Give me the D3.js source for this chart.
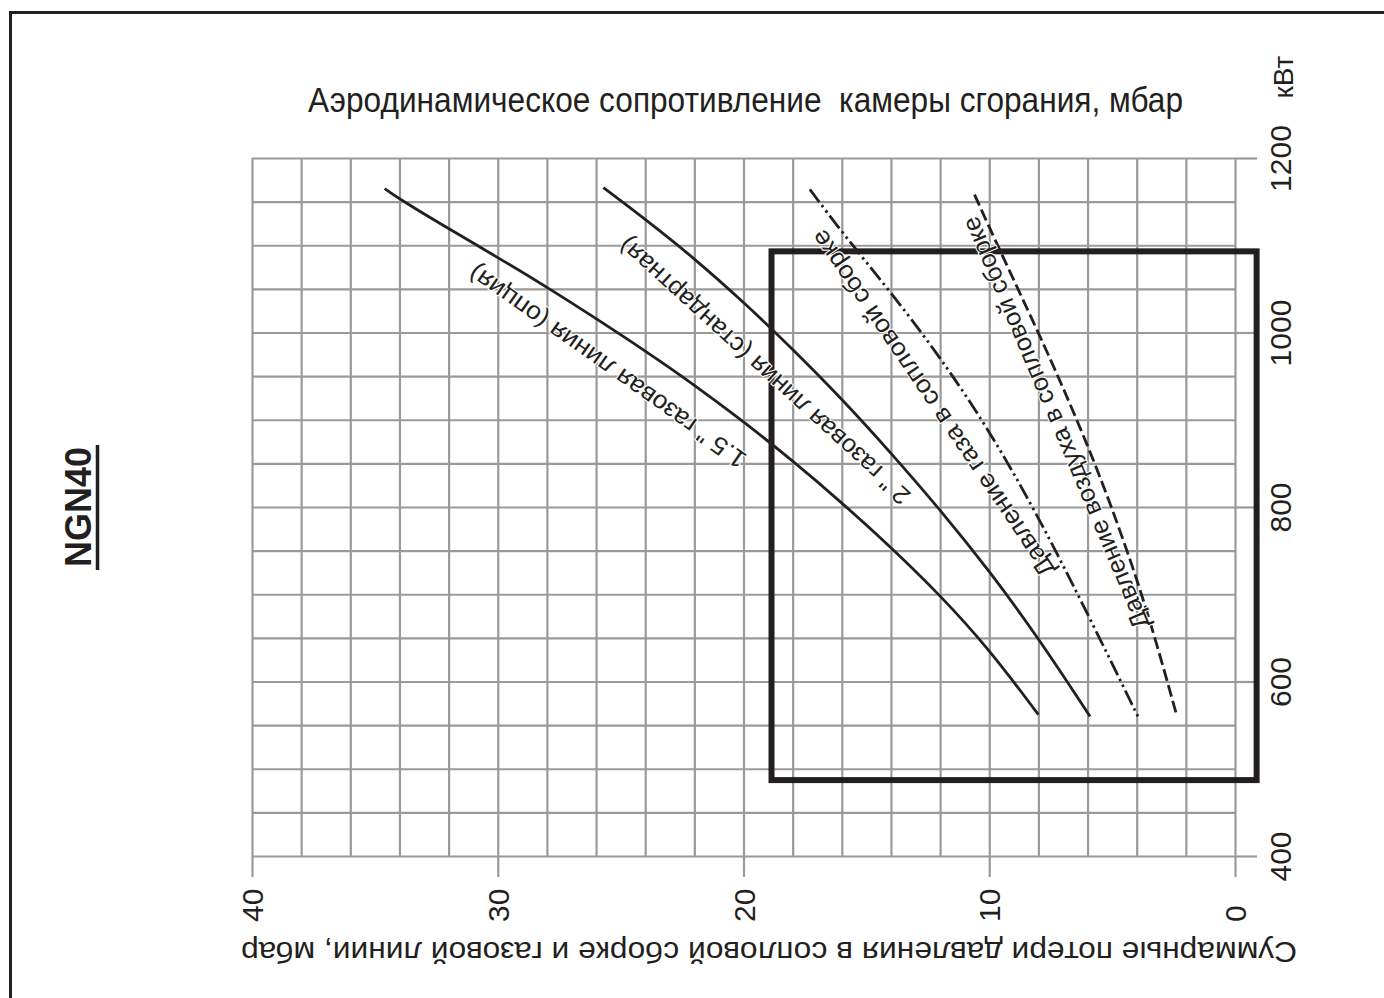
<!DOCTYPE html>
<html>
<head>
<meta charset="utf-8">
<script src="https://cdn.jsdelivr.net/npm/d3@7"></script>
<style>
  html, body { margin: 0; padding: 0; background: #fff; }
  svg { display: block; }
  text { font-family: "Liberation Sans", Arial, sans-serif; fill: #231f20; }
</style>
</head>
<body>
<svg id="chart" width="1384" height="998"></svg>
<script>
// ---- axes: pressure loss (mbar, decreasing to the right) and burner output (kW)
const pressureTicks = [40, 30, 20, 10, 0];
const pressureGrid = d3.range(0, 41, 2);
const powerTicks = [400, 600, 800, 1000, 1200];
const powerGrid = d3.range(400, 1201, 50);

// ---- working field of the burner
const fieldPressure = [18.86, -0.88];
const fieldPower = [487, 1093];

// ---- curves: pressure (mbar) against output (kW)
const gas15Pressure = [34.6, 34.0, 32.0, 30.0, 28.0, 26.0, 24.0, 22.0, 20.0, 18.0, 16.0, 14.0, 12.0, 10.0, 8.0];
const gas15Power    = [1165, 1153, 1119, 1086, 1052, 1016, 979, 940, 898, 853, 805, 754, 699, 637, 562];

const gas2Pressure = [25.7, 24.0, 22.0, 20.0, 18.0, 16.0, 14.0, 12.0, 10.0, 8.0, 5.9];
const gas2Power    = [1166, 1130, 1085, 1035, 981, 924, 862, 797, 727, 650, 560];

const headGasPressure = [17.3, 16.0, 14.0, 12.0, 10.0, 8.0, 6.0, 3.95];
const headGasPower    = [1164, 1115, 1046, 972, 888, 789, 678, 560];

const headAirPressure = [10.6, 9.6, 8.0, 7.0, 6.0, 5.1, 4.1, 3.25, 2.4];
const headAirPower    = [1158, 1096, 1000, 937, 871, 806, 727, 650, 564];

const seriesNames = [
  '1.5 " газовая линия (опция)',
  '2 " газовая линия (стандартная)',
  'Давление газа в сопловой сборке',
  'Давление воздуха в сопловой сборке'
];

const titleText = 'Аэродинамическое сопротивление  камеры сгорания, мбар';
const xAxisTitle = 'Суммарные потери давления в сопловой сборке и газовой линии, мбар';
const yUnit = 'кВт';
const modelName = 'NGN40';

// ---- layout
const ink = '#231f20', gridColor = '#9a9a9a';
const svg = d3.select('#chart');

const x = d3.scaleLinear().domain([40, 0]).range([252, 1235]);
const y = d3.scaleLinear().domain([400, 1200]).range([856, 158]);

// page frame
svg.append('rect').attr('x', 10.5).attr('y', 12.5).attr('width', 1400).attr('height', 1000)
  .attr('fill', 'none').attr('stroke', ink).attr('stroke-width', 3);

// vertical grid
const gv = svg.append('g').attr('transform', `translate(0,${y(400)})`)
  .call(d3.axisBottom(x).tickValues(pressureGrid).tickSize(-(y(400) - y(1200))).tickFormat(''));
gv.select('.domain').remove();
gv.selectAll('line').attr('stroke', gridColor).attr('stroke-width', 2.2);

// horizontal grid
const gh = svg.append('g').attr('transform', `translate(${x(40)},0)`)
  .call(d3.axisRight(y).tickValues(powerGrid).tickSize(x(0) - x(40)).tickFormat(''));
gh.select('.domain').remove();
gh.selectAll('line').attr('stroke', gridColor).attr('stroke-width', 2.2);

// bottom axis (major ticks + labels)
const ax = svg.append('g').attr('transform', `translate(0,${y(400)})`)
  .call(d3.axisBottom(x).tickValues(pressureTicks).tickSize(21).tickFormat(d3.format('d')));
ax.select('.domain').remove();
ax.selectAll('line').attr('stroke', gridColor).attr('stroke-width', 2.2);
ax.selectAll('text')
  .attr('x', 0).attr('y', 0).attr('dy', '0.35em')
  .attr('text-anchor', 'start')
  .attr('transform', 'translate(0,66) rotate(-90)')
  .attr('font-size', 30).attr('font-family', '"Liberation Sans", Arial, sans-serif')
  .attr('fill', ink);

// right axis (major ticks + labels)
const ay = svg.append('g').attr('transform', `translate(${x(0)},0)`)
  .call(d3.axisRight(y).tickValues(powerTicks).tickSize(22).tickFormat(d3.format('d')));
ay.select('.domain').remove();
ay.selectAll('line').attr('stroke', gridColor).attr('stroke-width', 2.2);
ay.selectAll('text')
  .attr('x', 0).attr('y', 0).attr('dy', '0.35em')
  .attr('text-anchor', 'middle')
  .attr('transform', 'translate(45,0) rotate(-90)')
  .attr('font-size', 30).attr('font-family', '"Liberation Sans", Arial, sans-serif')
  .attr('fill', ink);

// working field
svg.append('rect')
  .attr('x', x(fieldPressure[0])).attr('y', y(fieldPower[1]))
  .attr('width', x(fieldPressure[1]) - x(fieldPressure[0]))
  .attr('height', y(fieldPower[0]) - y(fieldPower[1]))
  .attr('fill', 'none').attr('stroke', ink).attr('stroke-width', 6);

// curves
const series = [
  { p: gas15Pressure, q: gas15Power, dash: null },
  { p: gas2Pressure, q: gas2Power, dash: null },
  { p: headGasPressure, q: headGasPower, dash: '16,4,2.5,4,2.5,4' },
  { p: headAirPressure, q: headAirPower, dash: '12,4.5' }
];
const line = d3.line().x(d => x(d[0])).y(d => y(d[1])).curve(d3.curveBasis);
series.forEach(s => {
  svg.append('path')
    .datum(s.p.map((v, i) => [v, s.q[i]]))
    .attr('d', line)
    .attr('fill', 'none').attr('stroke', ink).attr('stroke-width', 2.8)
    .attr('stroke-dasharray', s.dash);
});

// curve captions, set along straight runs beside each curve
const captionRuns = [
  { from: [19.81, 858.7], to: [30.88, 1078.8] },
  { from: [13.14, 815.1], to: [24.69, 1110.9] },
  { from: [7.28, 728.0], to: [16.72, 1120.1] },
  { from: [3.46, 664.9], to: [10.50, 1135.0] }
];
captionRuns.forEach((r, i) => {
  const x0 = x(r.from[0]), y0 = y(r.from[1]);
  const x1 = x(r.to[0]), y1 = y(r.to[1]);
  const ang = Math.atan2(y1 - y0, x1 - x0) * 180 / Math.PI;
  svg.append('text')
    .attr('transform', `translate(${x0},${y0}) rotate(${ang})`)
    .attr('font-size', 25)
    .attr('textLength', Math.hypot(x1 - x0, y1 - y0))
    .attr('lengthAdjust', 'spacingAndGlyphs')
    .attr('stroke', '#fff').attr('stroke-width', 2).attr('paint-order', 'stroke')
    .text(seriesNames[i]);
});

// chart title, set in a tall condensed style
svg.append('text')
  .attr('transform', 'translate(308,112) scale(1,1.15)')
  .attr('font-size', 31)
  .attr('textLength', 875).attr('lengthAdjust', 'spacingAndGlyphs')
  .style('white-space', 'pre')
  .text(titleText);

// unit of the power axis
svg.append('text')
  .attr('transform', `translate(1283,77) rotate(-90)`)
  .attr('text-anchor', 'middle').attr('dy', '0.35em')
  .attr('font-size', 28)
  .text(yUnit);

// pressure axis title, printed upside down
svg.append('text')
  .attr('transform', `translate(769,952) rotate(180)`)
  .attr('text-anchor', 'middle').attr('dy', '0.35em')
  .attr('font-size', 29)
  .attr('textLength', 1056).attr('lengthAdjust', 'spacingAndGlyphs')
  .text(xAxisTitle);

// model name with underline
svg.append('text')
  .attr('transform', `translate(78,507) rotate(-90)`)
  .attr('text-anchor', 'middle').attr('dy', '0.35em')
  .attr('font-size', 36).attr('font-weight', 'bold')
  .attr('textLength', 120).attr('lengthAdjust', 'spacingAndGlyphs')
  .text(modelName);
svg.append('line')
  .attr('x1', 97.5).attr('x2', 97.5).attr('y1', 445).attr('y2', 570)
  .attr('stroke', ink).attr('stroke-width', 3.5);
</script>
</body>
</html>
